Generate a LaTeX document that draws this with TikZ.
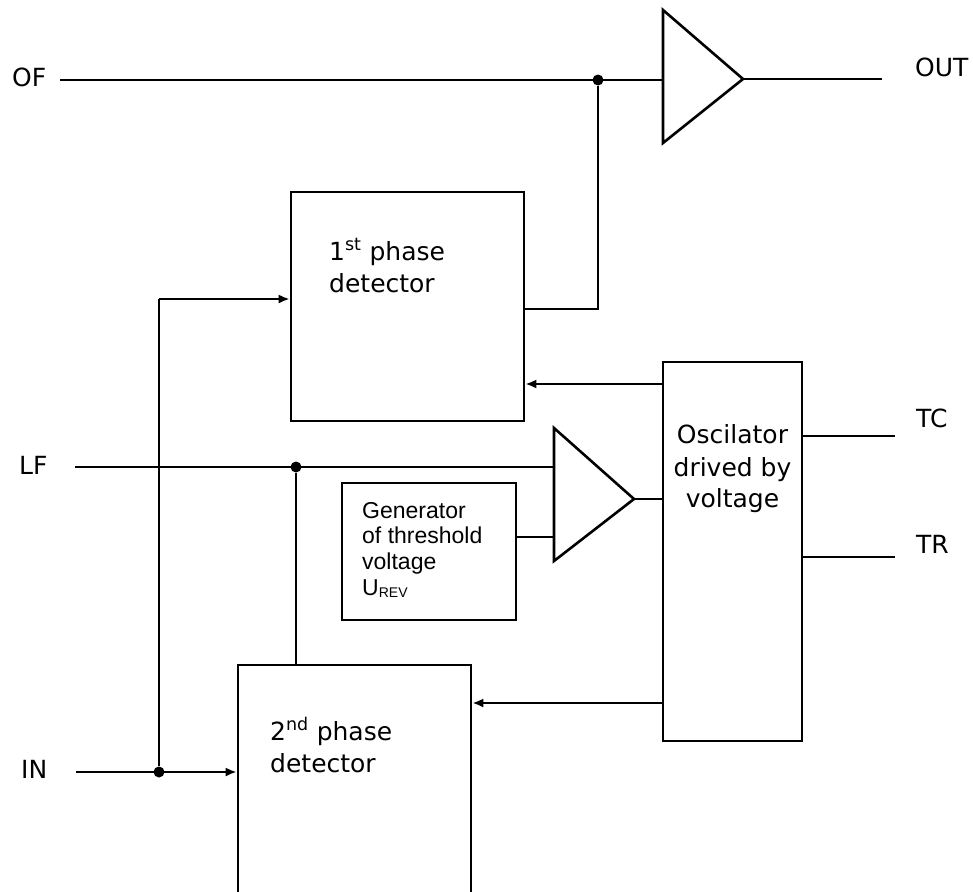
\documentclass[tikz,border=0pt]{standalone}
\usepackage{fontspec}
\setmainfont{DejaVu Sans}
\newfontfamily\arialf{Liberation Sans}
\usetikzlibrary{arrows.meta}
\begin{document}
\begin{tikzpicture}[x=1pt,y=-1pt,
  wire/.style={line width=2.6pt},
  blk/.style={draw,line width=2.6pt,rectangle,inner sep=0pt},
  lbl/.style={inner sep=0pt,anchor=base west,font=\fontsize{25}{30}\selectfont},
  clbl/.style={inner sep=0pt,anchor=base,font=\fontsize{25}{30}\selectfont},
  glbl/.style={inner sep=0pt,anchor=base west,font=\arialf\fontsize{23}{26}\selectfont},
  arr/.style={wire,-{Latex[length=11pt,width=9pt]}},
  jdot/.style={circle,fill,inner sep=0pt,minimum size=11pt},
]
\useasboundingbox (0,0) rectangle (973,891);

% blocks
\node[blk,minimum width=233pt,minimum height=229pt] (box1) at (407.5,306.5) {};
\node[blk,minimum width=233pt,minimum height=229pt] (box2) at (354.5,779.5) {};
\node[blk,minimum width=139pt,minimum height=379pt] (osc) at (732.5,551.5) {};
\node[draw,line width=2.1pt,rectangle,inner sep=0pt,minimum width=174pt,minimum height=137pt] (gen) at (429,551.5) {};

% block texts
\node[lbl] (b1t1) at (329,260) {1\textsuperscript{st} phase};
\node[lbl] (b1t2) at (329,292) {detector};
\node[lbl] (b2t1) at (270,740) {2\textsuperscript{nd} phase};
\node[lbl] (b2t2) at (270,772) {detector};
\node[clbl] (ot1) at (732.5,443) {Oscilator};
\node[clbl] (ot2) at (732.5,476) {drived by};
\node[clbl] (ot3) at (732.5,507) {voltage};
\node[glbl] (gt1) at (362,518) {Generator};
\node[glbl] (gt2) at (362,543) {of threshold};
\node[glbl] (gt3) at (362,569) {voltage};
\node[glbl] (gt4) at (362,595) {U\raisebox{-0.2ex}{\fontsize{14}{14}\selectfont REV}};

% terminal labels
\node[lbl] (lof) at (12,86) {OF};
\node[lbl] (lout) at (915,76) {OUT};
\node[lbl] (llf) at (19,474) {LF};
\node[lbl] (lin) at (21,778) {IN};
\node[lbl] (ltc) at (916,427) {TC};
\node[lbl] (ltr) at (916,553) {TR};

% amplifier triangles
\coordinate (t1top) at (663,10);
\coordinate (t1bot) at (663,143);
\coordinate (t1tip) at (743,79);
\draw[wire,line join=miter] (t1top) -- (t1tip) -- (t1bot) -- cycle;
\coordinate (t2top) at (554,428);
\coordinate (t2bot) at (554,561);
\coordinate (t2tip) at (634,499);
\draw[wire,line join=miter] (t2top) -- (t2tip) -- (t2bot) -- cycle;

% OF line and output
\coordinate (ofs) at (60,80);
\node[jdot] (d1) at (598,80) {};
\draw[wire] (ofs) -- (ofs -| t1top);
\coordinate (oute) at (882,79);
\draw[wire] (t1tip) -- (oute);

% 1st phase detector output to junction
\coordinate (k1) at (598,309);
\draw[wire] (k1 -| box1.east) -- (k1) -- (d1);

% IN line and branch to 1st detector
\coordinate (ins) at (76,772);
\node[jdot] (d3) at (159,772) {};
\coordinate (a1) at (159,299);
\draw[arr] (ins) -- (ins -| box2.west);
\draw[wire] (d3) -- (a1);
\draw[arr] (a1) -- (a1 -| box1.west);

% LF line
\coordinate (lfs) at (75,467);
\node[jdot] (d2) at (296,467) {};
\draw[wire] (lfs) -- (lfs -| t2top);
\draw[wire] (d2) -- (d2 |- box2.north);

% generator to comparator
\coordinate (t2g) at (554,537);
\draw[wire] (t2g -| gen.east) -- (t2g);
\draw[wire] (t2tip) -- (t2tip -| osc.west);

% oscillator feedback arrows
\coordinate (k2) at (600,384);
\draw[arr] (k2 -| osc.west) -- (k2 -| box1.east);
\coordinate (k3) at (600,703);
\draw[arr] (k3 -| osc.west) -- (k3 -| box2.east);

% TC, TR outputs
\coordinate (tce) at (895,436);
\draw[wire] (tce -| osc.east) -- (tce);
\coordinate (tre) at (895,557);
\draw[wire] (tre -| osc.east) -- (tre);
\end{tikzpicture}
\end{document}
